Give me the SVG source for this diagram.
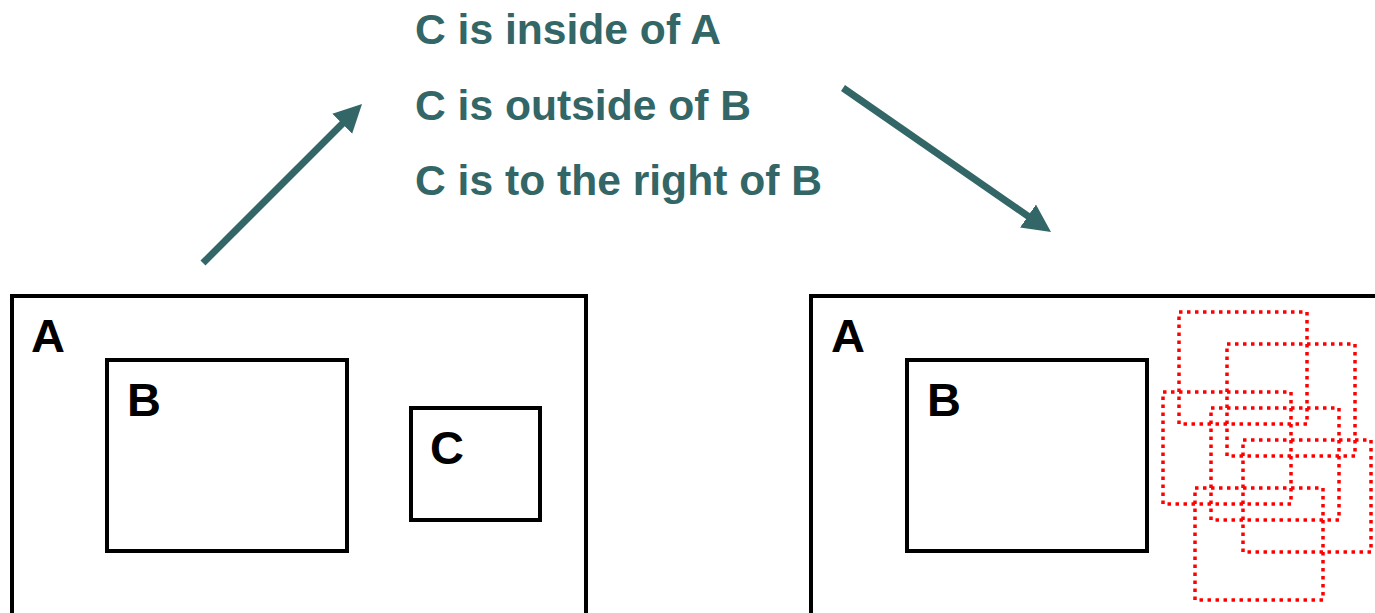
<svg xmlns="http://www.w3.org/2000/svg" width="1375" height="613" viewBox="0 0 1375 613">
<style>
.box{fill:none;stroke:#000;stroke-width:4}
.ghost{fill:none;stroke:#ff0000;stroke-width:3.5;stroke-dasharray:3.5 4.5}
.lbl{font-family:"Liberation Sans",Arial,sans-serif;font-weight:bold;font-size:47px;fill:#000}
.stmt{font-family:"Liberation Sans",Arial,sans-serif;font-weight:bold;font-size:42.6px;fill:#336666}
.arr{stroke:#336666;stroke-width:7;fill:none}
</style>
<defs>
<marker id="head" markerUnits="userSpaceOnUse" markerWidth="30" markerHeight="30" viewBox="0 -15 30 30" refX="10" refY="0" orient="auto">
<path d="M0,-14 L28,0 L0,14 z" fill="#336666"/>
</marker>
</defs>
<rect width="1375" height="613" fill="#fff"/>
<g id="statements">
<text class="stmt" x="415" y="44">C is inside of A</text>
<text class="stmt" x="415" y="120">C is outside of B</text>
<text class="stmt" x="415" y="195">C is to the right of B</text>
</g>
<g id="left-A">
<rect class="box" x="12" y="296" width="574" height="400"/>
<text class="lbl" x="31" y="352">A</text>
</g>
<g id="left-B">
<rect class="box" x="107" y="360" width="240" height="191"/>
<text class="lbl" x="127" y="416">B</text>
</g>
<g id="left-C">
<rect class="box" x="411" y="408" width="129" height="112"/>
<text class="lbl" x="430" y="464">C</text>
</g>
<g id="right-A">
<rect class="box" x="811" y="296" width="600" height="400"/>
<text class="lbl" x="831" y="352">A</text>
</g>
<g id="right-B">
<rect class="box" x="907" y="360" width="240" height="191"/>
<text class="lbl" x="927" y="416">B</text>
</g>
<g id="candidates">
<rect class="ghost" x="1179" y="312" width="128" height="112"/>
<rect class="ghost" x="1227" y="344" width="128" height="112"/>
<rect class="ghost" x="1163" y="392" width="128" height="112"/>
<rect class="ghost" x="1211" y="408" width="128" height="112"/>
<rect class="ghost" x="1243" y="440" width="128" height="112"/>
<rect class="ghost" x="1195" y="488" width="128" height="112"/>
</g>
<g id="connectors">
<line class="arr" x1="203" y1="263" x2="349.3" y2="116.7" marker-end="url(#head)"/>
<line class="arr" x1="843" y1="88" x2="1036.2" y2="221.8" marker-end="url(#head)"/>
</g>
</svg>
